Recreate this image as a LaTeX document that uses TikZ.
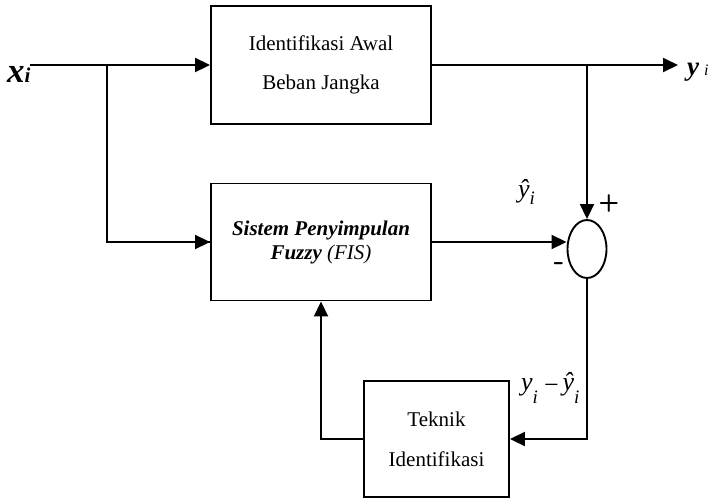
\documentclass[tikz,border=0pt]{standalone}
\usepackage{fontspec}
\setmainfont{Liberation Serif}
\usetikzlibrary{arrows.meta,shapes.geometric}

\begin{document}
\begin{tikzpicture}[x=1pt,y=-1pt,
  wire/.style={line width=1.9pt},
  flow/.style={wire,-{Triangle[length=15pt,width=14pt]}},
  block/.style={draw,line width=1.9pt,inner sep=0pt,align=center},
  sumnode/.style={draw,line width=1.9pt,ellipse,inner sep=0pt,
    minimum width=39pt,minimum height=58pt},
  lbl/.style={inner sep=0pt,anchor=base west},
  sign/.style={inner sep=0pt,font=\fontsize{24}{24}\selectfont\sffamily\bfseries}
]
\useasboundingbox (0,0) rectangle (717,499);

% blocks
\node[block,minimum width=220pt,minimum height=118pt,
      font=\fontsize{21}{39}\selectfont] (top) at (321,65)
  {Identifikasi Awal\\Beban Jangka};
\node[block,minimum width=220pt,minimum height=117pt,
      font=\fontsize{21}{24}\selectfont\bfseries\itshape] (fis) at (321,242)
  {Sistem Penyimpulan\\Fuzzy {\mdseries(FIS)}};
\node[block,minimum width=145pt,minimum height=116pt,
      font=\fontsize{21}{40}\selectfont] (tek) at (436.5,439)
  {Teknik\\Identifikasi};
\node[sumnode] (sum) at (587,249) {};

% free ends and junctions
\coordinate (xin) at (30,65);
\coordinate (br) at (107,65);
\coordinate (yout) at (678,65);
\coordinate (tap) at (587,65);

% connectors
\draw[flow] (xin) -- (top.west);
\draw[wire] (br) |- (fis.west);
\draw[flow] (br |- fis.west) -- (fis.west);
\draw[flow] (top.east) -- (yout);
\draw[flow] (tap) -- (sum.north);
\draw[flow] (fis.east) -- (fis.east -| sum.west);
\draw[flow] (sum.south) |- (tek.east);
\draw[flow] (tek.west) -| (fis.south);

% signal labels
\node[lbl] (xlbl) at (7,82)
  {\fontsize{35}{35}\selectfont\bfseries\itshape x\fontsize{21}{21}\selectfont i};
\node[lbl] (ylbl) at (687,75)
  {\fontsize{27}{27}\selectfont\bfseries\itshape y\hspace{5pt}\mdseries\fontsize{16}{16}\selectfont i};
\node[lbl] (yhat) at (518,197)
  {\fontsize{26}{26}\selectfont\itshape ŷ\raisebox{-7pt}{\fontsize{19}{19}\selectfont i}};
\node[lbl] (err) at (521,390)
  {\fontsize{26}{26}\selectfont\itshape y\raisebox{-13pt}{\fontsize{19}{19}\selectfont i}\hspace{6pt}\upshape\raisebox{-3pt}{−}\hspace{4pt}\itshape ŷ\raisebox{-13pt}{\fontsize{19}{19}\selectfont i}};
\node[sign] (plus) at (609,203) {+};
\node[sign,font=\fontsize{30}{30}\selectfont\sffamily\bfseries] (minus) at (559,267) {-};
\end{tikzpicture}
\end{document}
